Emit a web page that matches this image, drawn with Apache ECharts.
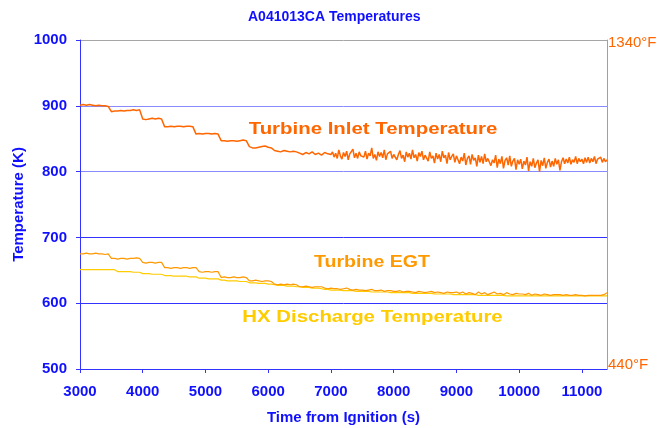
<!DOCTYPE html>
<html>
<head>
<meta charset="utf-8">
<script src="https://cdn.jsdelivr.net/npm/echarts@6/dist/echarts.min.js"></script>
<style>html,body{margin:0;padding:0;background:#fff}#c{width:657px;height:428px}</style>
</head>
<body>
<div id="c"></div>
<script>
// sample times (s) for Turbine EGT and HX Discharge
var times = [
3000,3050,3100,3150,3200,3250,3300,3350,3400,3450,
3500,3550,3600,3650,3700,3750,3800,3850,3900,3950,
4000,4050,4100,4150,4200,4250,4300,4350,4400,4450,
4500,4550,4600,4650,4700,4750,4800,4850,4900,4950,
5000,5050,5100,5150,5200,5250,5300,5350,5400,5450,
5500,5550,5600,5650,5700,5750,5800,5850,5900,5950,
6000,6050,6100,6150,6200,6250,6300,6350,6400,6450,
6500,6550,6600,6650,6700,6750,6800,6850,6900,6950,
7000,7050,7100,7150,7200,7250,7300,7350,7400,7450,
7500,7550,7600,7650,7700,7750,7800,7850,7900,7950,
8000,8050,8100,8150,8200,8250,8300,8350,8400,8450,
8500,8550,8600,8650,8700,8750,8800,8850,8900,8950,
9000,9050,9100,9150,9200,9250,9300,9350,9400,9450,
9500,9550,9600,9650,9700,9750,9800,9850,9900,9950,
10000,10050,10100,10150,10200,10250,10300,10350,10400,10450,
10500,10550,10600,10650,10700,10750,10800,10850,10900,10950,
11000,11050,11100,11150,11200,11250,11300,11350,11400
];
// sample times (s) for Turbine Inlet Temperature (denser where it is noisy)
var timesTIT = [
3000,3050,3100,3150,3200,3250,3300,3350,3400,3450,
3500,3550,3600,3650,3700,3750,3800,3850,3900,3950,
4000,4050,4100,4150,4200,4250,4300,4350,4400,4450,
4500,4550,4600,4650,4700,4750,4800,4850,4900,4950,
5000,5050,5100,5150,5200,5250,5300,5350,5400,5450,
5500,5550,5600,5650,5700,5750,5800,5850,5900,5950,
6000,6050,6100,6150,6200,6250,6300,6350,6400,6450,
6500,6550,6600,6650,6700,6750,6800,6850,6900,6950,
7000,
7025,7050,7075,7100,7125,7150,7175,7200,7225,7250,7275,7300,7325,7350,7375,7400,7425,7450,7475,7500,
7525,7550,7575,7600,7625,7650,7675,7700,7725,7750,7775,7800,7825,7850,7875,7900,7925,7950,7975,8000,
8025,8050,8075,8100,8125,8150,8175,8200,8225,8250,8275,8300,8325,8350,8375,8400,8425,8450,8475,8500,
8525,8550,8575,8600,8625,8650,8675,8700,8725,8750,8775,8800,8825,8850,8875,8900,8925,8950,8975,9000,
9025,9050,9075,9100,9125,9150,9175,9200,9225,9250,9275,9300,9325,9350,9375,9400,9425,9450,9475,9500,
9525,9550,9575,9600,9625,9650,9675,9700,9725,9750,9775,9800,9825,9850,9875,9900,9925,9950,9975,10000,
10025,10050,10075,10100,10125,10150,10175,10200,10225,10250,10275,10300,10325,10350,10375,10400,10425,10450,10475,10500,
10525,10550,10575,10600,10625,10650,10675,10700,10725,10750,10775,10800,10825,10850,10875,10900,10925,10950,10975,11000,
11025,11050,11075,11100,11125,11150,11175,11200,11225,11250,11275,11300,11325,11350,11375,11400
];
var turbineInlet = [
901,902,901,902,901,900,901,900,900,899,
891,892,892,893,892,893,893,894,893,894,
880,879,880,881,880,881,880,868,868,869,
868,869,869,868,869,869,868,857,858,857,
858,858,857,858,857,847,847,846,847,847,
846,847,848,847,838,836,836,837,838,839,
837,836,832,831,830,832,831,830,831,830,
828,826,829,827,830,826,828,825,829,827,
826,
830,822,828,820,833,824,819,829,823,831,818,827,825,834,821,828,820,830,824,827,
822,831,819,828,824,836,820,826,817,830,823,829,821,833,818,827,824,831,820,826,
829,818,826,832,820,825,815,830,822,828,819,833,821,826,816,829,823,831,818,825,
827,816,830,820,824,813,828,819,826,815,831,821,825,812,829,818,823,827,814,824,
825,812,822,816,828,810,820,824,811,826,817,821,808,825,814,823,812,827,815,820,
822,809,818,813,825,806,819,812,823,805,817,821,810,824,808,816,820,803,818,811,
819,804,816,810,822,801,815,808,820,806,813,818,800,817,809,821,805,814,819,807,
816,808,820,811,818,802,815,821,812,819,813,822,811,818,814,823,812,820,815,819,
812,821,814,822,813,820,815,823,812,819,816,822,814,820,815,818
];
var turbineEGT = [
675,675,676,675,675,676,675,675,674,675,
668,668,667,668,668,667,668,668,669,668,
662,661,662,662,661,662,662,654,654,653,
654,654,653,654,654,653,654,654,648,647,
648,648,647,648,648,639,640,639,639,640,
639,639,640,639,634,634,635,634,633,634,
634,633,629,628,629,628,629,628,629,628,
625,625,626,625,624,625,625,625,623,622,
623,622,622,621,622,623,621,620,621,620,
620,619,620,621,619,619,620,618,619,619,
618,618,619,617,618,618,617,616,618,617,
616,617,618,616,617,616,615,617,616,616,
617,615,617,614,616,615,613,617,614,616,
613,615,617,614,615,613,616,614,613,615,
614,614,613,615,612,614,613,612,614,613,
612,613,613,613,612,613,612,612,613,612,
612,611,612,612,612,612,612,613,616
];
var hxDischarge = [
651,651,651,651,651,651,651,651,651,651,
651,651,648,648,648,648,648,647,647,647,
645,645,645,644,644,644,644,642,642,642,
641,641,641,641,641,640,640,640,638,638,
638,637,637,637,637,635,635,634,634,634,
634,633,633,633,631,631,631,630,630,630,
629,629,628,627,627,627,626,626,626,625,
625,624,624,624,623,623,623,622,621,621,
620,620,620,620,619,619,619,619,618,618,
618,618,618,617,617,617,617,617,617,616,
616,616,616,616,616,616,615,615,615,615,
615,615,615,614,614,614,614,614,614,613,
613,613,613,613,613,613,613,612,612,612,
612,612,612,612,612,612,611,611,611,611,
611,611,611,611,611,611,611,611,611,611,
611,611,611,611,611,611,611,611,611,611,
611,611,611,611,611,611,611,611,611
];
var xTicks = [3000,4000,5000,6000,7000,8000,9000,10000,11000];
var yTicks = [500,600,700,800,900,1000];
var rightTickLabels = {500:'440°F', 1000:'1340°F'};
var seriesNames = ['HX Discharge Temperature','Turbine EGT','Turbine Inlet Temperature'];

function pairs(ts, vals){ return ts.map(function(t,i){ return [t, vals[i]]; }); }

var BLUE = '#1010ff';
var FONT = '"Liberation Sans", Arial, sans-serif';
var chart = echarts.init(document.getElementById('c'), null, {renderer:'canvas'});
chart.setOption({
  animation:false,
  backgroundColor:'#ffffff',
  title:{
    text:'A041013CA Temperatures',
    left:243, top:5,
    textStyle:{color:BLUE, fontSize:14, fontWeight:'bold', fontFamily:FONT}
  },
  grid:{left:80, right:50, top:40, bottom:59, containLabel:false, outerBoundsMode:'none'},
  xAxis:{
    type:'value', min:3000, max:11400,
    name:'Time from Ignition (s)', nameLocation:'middle', nameGap:41, nameMoveOverlap:false,
    nameTextStyle:{color:BLUE, fontSize:15, fontWeight:'bold', fontFamily:FONT},
    axisLine:{show:true, onZero:false, lineStyle:{color:'#3333ff', width:1}},
    axisTick:{show:true, length:4, customValues:xTicks, lineStyle:{color:'#3333ff'}},
    axisLabel:{customValues:xTicks, margin:15, color:BLUE, fontSize:15, fontWeight:'bold', fontFamily:FONT,
      formatter:function(v){ return String(v); }},
    splitLine:{show:false}
  },
  yAxis:[{
    type:'value', min:yTicks[0], max:yTicks[yTicks.length-1], interval:100,
    name:'Temperature (K)', nameLocation:'middle', nameGap:54, nameRotate:90, nameMoveOverlap:false,
    nameTextStyle:{color:BLUE, fontSize:15, fontWeight:'bold', fontFamily:FONT},
    axisLine:{show:true, lineStyle:{color:'#3333ff', width:1}},
    axisTick:{show:true, length:4, lineStyle:{color:'#3333ff'}},
    axisLabel:{margin:13, color:BLUE, fontSize:15, fontWeight:'bold', fontFamily:FONT,
      formatter:function(v){ return String(v); }},
    splitLine:{show:true, lineStyle:{color:['#3333ff','#3333ff','#3333ff','#8a8aff','#8a8aff','#a6a6a6'], width:1}}
  },{
    type:'value', min:500, max:1000, interval:500, position:'right',
    axisLine:{show:true, lineStyle:{color:'#a0a0a0', width:1}},
    axisTick:{show:false},
    axisLabel:{margin:1, color:'#ff6600', fontSize:15, fontFamily:FONT,
      formatter:function(v){
        if (v === 1000) return '{top|' + rightTickLabels[v] + '}';
        if (v === 500) return '{bot|' + rightTickLabels[v] + '}';
        return '';
      },
      rich:{
        top:{color:'#ff6600', fontSize:15, fontFamily:FONT, padding:[6,0,0,0]},
        bot:{color:'#ff6600', fontSize:15, fontFamily:FONT, padding:[0,0,9,0]}
      }},
    splitLine:{show:false}
  }],
  series:[
    {name:seriesNames[0], type:'line', data:pairs(times, hxDischarge), showSymbol:false, symbol:'none',
     lineStyle:{color:'#ffcc00', width:1.2}, z:2},
    {name:seriesNames[1], type:'line', data:pairs(times, turbineEGT), showSymbol:false, symbol:'none',
     lineStyle:{color:'#ff9900', width:1.2}, z:3},
    {name:seriesNames[2], type:'line', data:pairs(timesTIT, turbineInlet), showSymbol:false, symbol:'none',
     lineStyle:{color:'#ff6600', width:1.5}, z:4}
  ],
  graphic:[
    {type:'text', x:373, y:129, scaleX:1.2, scaleY:1,
     style:{text:seriesNames[2], fill:'#ff6600', font:'bold 17px '+FONT, textAlign:'center', textVerticalAlign:'middle', align:'center', verticalAlign:'middle'}},
    {type:'text', x:372, y:262, scaleX:1.15, scaleY:1,
     style:{text:seriesNames[1], fill:'#ff9900', font:'bold 17px '+FONT, textAlign:'center', textVerticalAlign:'middle', align:'center', verticalAlign:'middle'}},
    {type:'text', x:372.5, y:317, scaleX:1.2, scaleY:1,
     style:{text:seriesNames[0], fill:'#ffcc00', font:'bold 17px '+FONT, textAlign:'center', textVerticalAlign:'middle', align:'center', verticalAlign:'middle'}}
  ]
});
</script>
</body>
</html>
